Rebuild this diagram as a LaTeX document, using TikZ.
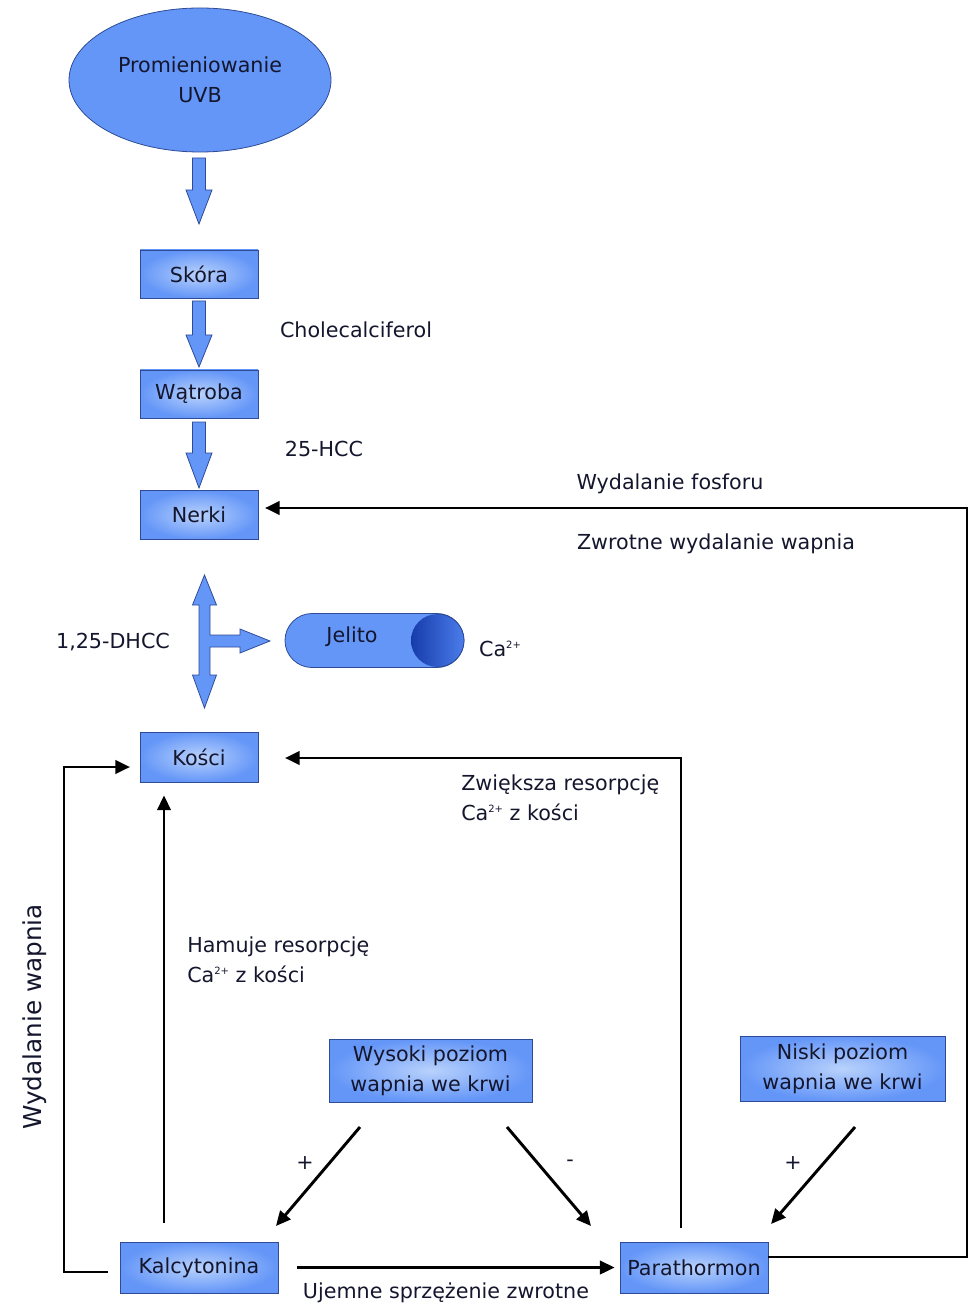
\documentclass[tikz,border=0pt]{standalone}
\usepackage{fontspec}
\setmainfont{DejaVu Sans}
\usetikzlibrary{shapes.geometric,arrows.meta}
\definecolor{bblue}{RGB}{100,150,248}
\definecolor{bborder}{RGB}{45,75,150}
\definecolor{blight}{RGB}{185,210,252}
\definecolor{txt}{RGB}{20,22,45}
\definecolor{dkblue}{RGB}{22,60,170}
\definecolor{capright}{RGB}{75,125,235}
\newcommand{\casup}{Ca\raisebox{0.75ex}{\fontsize{7.5}{8}\selectfont 2+}}
\begin{document}
\begin{tikzpicture}[x=0.75pt,y=-0.75pt,
  every node/.style={font=\fontsize{15.5}{22.5}\selectfont, text=txt},
  box/.style={draw=bborder, line width=0.6pt, shading=radial, inner color=blight, outer color=bblue, align=center, inner sep=0pt},
  blockarrow/.style={fill=bblue, draw=bborder, line width=0.6pt, line join=miter},
  conn/.style={line width=2.2pt, -{Triangle[length=11pt,width=10pt]}},
  lbl/.style={inner sep=0pt}]
\useasboundingbox (0,0) rectangle (971,1308);

% ellipse
\node[ellipse, draw=bborder, fill=bblue, line width=0.6pt, minimum width=196.5pt, minimum height=108pt, align=center, inner sep=0pt] (uvb) at (200,80) {Promieniowanie\\UVB};

% boxes
\node[box, minimum width=88.5pt, minimum height=36pt] (skora) at (199,274) {Skóra};
\node[box, minimum width=88.5pt, minimum height=36pt] (watroba) at (199,394) {Wątroba};
\node[box, minimum width=88.5pt, minimum height=36.75pt] (nerki) at (199,515) {Nerki};
\node[box, minimum width=88.5pt, minimum height=37.5pt] (kosci) at (199,757) {Kości};
\node[box, minimum width=152.25pt, minimum height=47.25pt] (wysoki) at (430.5,1070.5) {Wysoki poziom\\wapnia we krwi};
\node[box, minimum width=153.75pt, minimum height=48.75pt] (niski) at (842.5,1068.5) {Niski poziom\\wapnia we krwi};
\node[box, minimum width=118.5pt, minimum height=38.25pt] (kalc) at (199,1267.5) {Kalcytonina};
\node[box, minimum width=111pt, minimum height=38.25pt] (para) at (694,1267.5) {Parathormon};

% block arrows
\draw[blockarrow] (192.5,158) -- (205.5,158) -- (205.5,190) -- (212,190) -- (199,224) -- (186,190) -- (192.5,190) -- cycle;
\draw[blockarrow] (192.5,301) -- (205.5,301) -- (205.5,335) -- (212,335) -- (199,367) -- (186,335) -- (192.5,335) -- cycle;
\draw[blockarrow] (192.5,422) -- (205.5,422) -- (205.5,453) -- (212,453) -- (199,488) -- (186,453) -- (192.5,453) -- cycle;
\draw[blockarrow] (204.5,575) -- (216.5,605) -- (210,605) -- (210,635) -- (240,635) -- (240,629) -- (270,641) -- (240,653) -- (240,647) -- (210,647) -- (210,675) -- (216.5,675) -- (204.5,708) -- (192.5,675) -- (199,675) -- (199,605) -- (192.5,605) -- cycle;

% Jelito
\node[draw=bborder, fill=bblue, line width=0.6pt, minimum width=134.25pt, minimum height=40.5pt, rounded corners=20.25pt, inner sep=0pt] (jelito) at (374.5,640.5) {};
\shade[left color=dkblue, right color=capright] (437.5,640.5) circle [radius=26.5];
\draw[bborder, line width=0.6pt] (437.5,667) arc [start angle=90, end angle=-90, radius=26.5];
\node[lbl] at (352,637) {Jelito};

% labels
\node[lbl] at (356,330) {Cholecalciferol};
\node[lbl] at (324,449) {25-HCC};
\node[lbl] at (670,484) {Wydalanie fosforu};
\node[lbl] at (716,544) {Zwrotne wydalanie wapnia};
\node[lbl] at (113,642) {1,25-DHCC};
\node[lbl] at (500,649) {\casup};
\node[lbl, align=left, anchor=west] at (461,798) {Zwiększa resorpcję\\\casup\ z kości};
\node[lbl, align=left, anchor=west] at (187,960) {Hamuje resorpcję\\\casup\ z kości};
\node[lbl, rotate=90, font=\fontsize{18.5}{22}\selectfont] at (35,1017) {Wydalanie wapnia};
\node[lbl] at (305,1163) {+};
\node[lbl] at (570,1163) {-};
\node[lbl] at (793,1163) {+};
\node[lbl] at (446,1293) {Ujemne sprzężenie zwrotne};

% connectors
\coordinate (rt) at (967,1257);
\coordinate (nin) at (265,508);
\draw[conn, line join=miter] (para.east |- rt) -- (rt) -- (rt |- nin) -- (nin);

\coordinate (pup) at (681,1228);
\coordinate (kin) at (285,758);
\draw[conn, line join=miter] (pup) -- (pup |- kin) -- (kin);

\coordinate (kup) at (164,1223);
\draw[conn, shorten >=9.75pt] (kup) -- (kup |- kosci.south);

\coordinate (kl) at (108,1272);
\coordinate (kin2) at (130,767);
\draw[conn, line join=miter] (kl) -- (64,1272) -- (64,767) -- (kin2);

\draw[conn, shorten <=14.25pt, shorten >=3.75pt] (kalc.east) -- (para.west);

\coordinate (d1s) at (360,1127);
\coordinate (d1e) at (276,1226);
\draw[conn] (d1s) -- (d1e);
\coordinate (d2s) at (507,1127);
\coordinate (d2e) at (591,1226);
\draw[conn] (d2s) -- (d2e);
\coordinate (d3s) at (855,1127);
\coordinate (d3e) at (771,1224);
\draw[conn] (d3s) -- (d3e);
\end{tikzpicture}
\end{document}
